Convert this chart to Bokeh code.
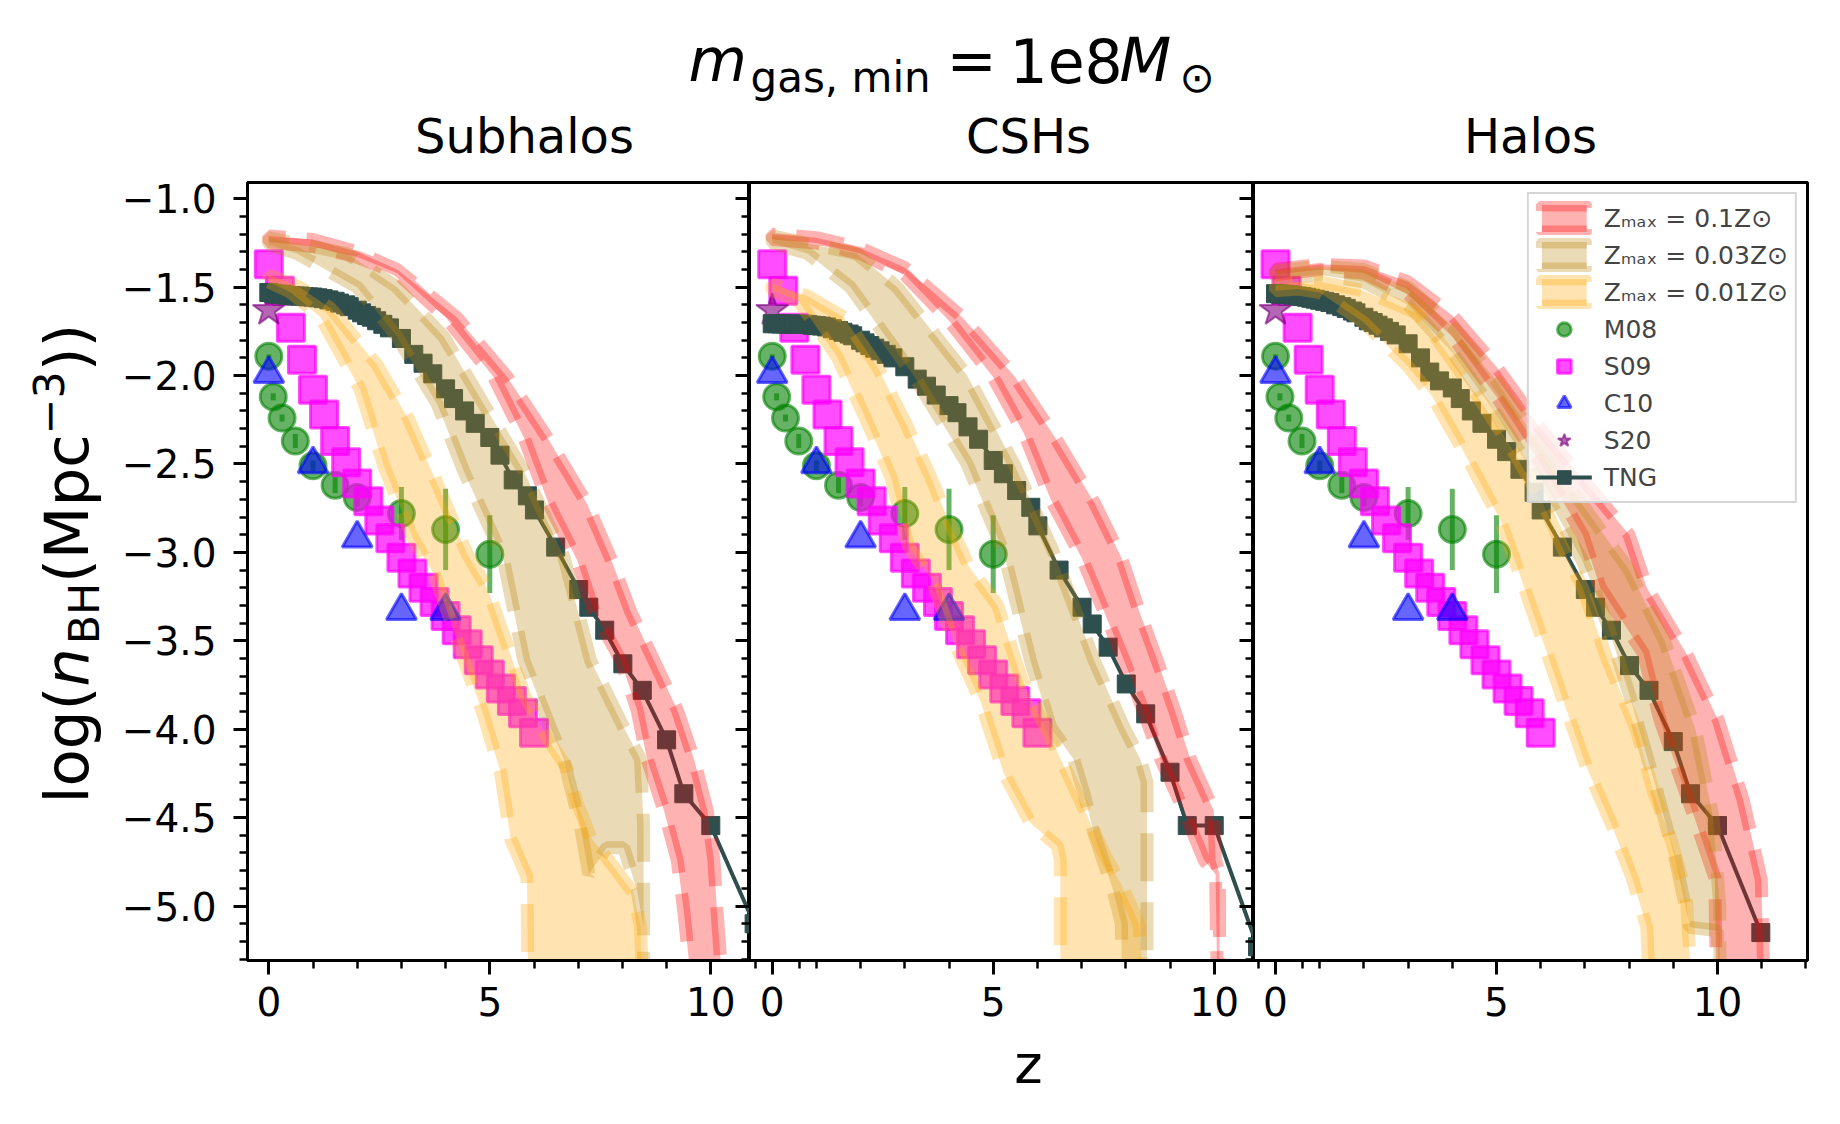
import math
from bokeh.plotting import figure
from bokeh.models import (Range1d, LinearAxis, SingleIntervalTicker, FixedTicker, Label, Legend,
                          LegendItem, CustomJSTickFormatter)
from bokeh.layouts import row, column
from bokeh.embed import file_html
from bokeh.resources import INLINE

FONT = "DejaVu Sans"

# ---------------------------------------------------------------- data
PANEL_TITLES = ["Subhalos", "CSHs", "Halos"]
LEGEND_LABELS = ["Z\u2098\u2090\u2093 = 0.1Z\u2299", "Z\u2098\u2090\u2093 = 0.03Z\u2299",
                 "Z\u2098\u2090\u2093 = 0.01Z\u2299", "M08", "S09", "C10", "S20", "TNG"]
X_MAJOR_TICKS = [0, 5, 10]
X_MINOR_TICKS = [1, 2, 3, 4, 6, 7, 8, 9, 11, 12]

TNG_Z = [0, 0.1, 0.2, 0.3, 0.4, 0.5, 0.6, 0.7, 0.8, 0.9,
         1.0, 1.11, 1.23, 1.36, 1.5, 1.6, 1.74, 1.82, 2.0, 2.1,
         2.21, 2.32, 2.44, 2.58, 2.73, 3.0, 3.28, 3.49, 3.71, 4.0,
         4.18, 4.43, 4.67, 5.0, 5.23, 5.53, 5.85, 6.01, 6.49, 7.01,
         7.24, 7.6, 8.01, 8.45, 9.0, 9.39, 10.0, 10.98]
TNG_SUB = [-1.53, -1.535, -1.54, -1.54, -1.545, -1.547, -1.55, -1.55, -1.553, -1.555,
           -1.556, -1.56, -1.565, -1.572, -1.58, -1.59, -1.60, -1.61, -1.63, -1.645,
           -1.66, -1.67, -1.69, -1.71, -1.73, -1.79, -1.88, -1.93, -1.99, -2.075,
           -2.13, -2.20, -2.27, -2.35, -2.45, -2.59, -2.68, -2.76, -2.97, -3.21,
           -3.31, -3.44, -3.63, -3.78, -4.06, -4.365, -4.545, -5.10]
TNG_CSH = [-1.707, -1.707, -1.708, -1.708, -1.709, -1.709, -1.71, -1.71, -1.71, -1.715,
           -1.717, -1.72, -1.725, -1.735, -1.745, -1.755, -1.765, -1.775, -1.80, -1.815,
           -1.83, -1.845, -1.86, -1.88, -1.90, -1.95, -2.02, -2.06, -2.11, -2.17,
           -2.21, -2.29, -2.36, -2.48, -2.555, -2.65, -2.745, -2.85, -3.10, -3.31,
           -3.405, -3.536, -3.744, -3.913, -4.243, -4.545, -4.545, -5.23]
TNG_HALO = [-1.537, -1.538, -1.54, -1.542, -1.545, -1.55, -1.553, -1.557, -1.563, -1.568,
            -1.574, -1.58, -1.587, -1.60, -1.61, -1.62, -1.635, -1.645, -1.67, -1.69,
            -1.70, -1.715, -1.73, -1.75, -1.77, -1.82, -1.90, -1.98, -2.03, -2.07,
            -2.13, -2.20, -2.27, -2.36, -2.43, -2.53, -2.66, -2.76, -2.97, -3.21,
            -3.31, -3.44, -3.64, -3.78, -4.07, -4.365, -4.545, -5.15]

M08_Z = [0, 0.1, 0.3, 0.6, 1.0, 1.5, 2.0, 3.0, 4.0, 5.0]
M08_Y = [-1.89, -2.12, -2.24, -2.37, -2.51, -2.62, -2.69, -2.78, -2.87, -3.01]
M08_ERR = [0.01, 0.02, 0.02, 0.04, 0.03, 0.045, 0.05, 0.15, 0.23, 0.22]

S09_Z = [0, 0.25, 0.5, 0.75, 1.0, 1.25, 1.5, 1.75, 2.0, 2.25, 2.5, 2.75, 3.0,
         3.25, 3.5, 3.75, 4.0, 4.25, 4.5, 4.75, 5.0, 5.25, 5.5, 5.75, 6.0]
S09_Y = [-1.37, -1.52, -1.73, -1.91, -2.08, -2.22, -2.37, -2.49, -2.61, -2.71, -2.82, -2.92, -3.03,
         -3.12, -3.20, -3.28, -3.36, -3.44, -3.52, -3.61, -3.69, -3.77, -3.84, -3.91, -4.02]

C10_Z = [0, 1, 2, 3, 4]
C10_Y = [-1.99, -2.50, -2.92, -3.33, -3.33]

S20_Z = [0]
S20_Y = [-1.63]

# band edges: (z, log n) along the lower and the upper boundary
SUB_RED_LO = [(0, -1.245), (1, -1.27), (2, -1.33), (2.9, -1.42), (4.0, -1.67), (5.09, -2.01),
              (5.77, -2.35), (6.33, -2.725), (6.98, -3.046), (7.35, -3.33), (7.96, -3.61),
              (8.33, -3.89), (8.56, -4.17), (8.94, -4.46), (9.24, -4.74), (9.39, -5.03),
              (9.50, -5.30), (9.55, -5.6)]
SUB_RED_HI = [(0, -1.21), (1, -1.23), (2, -1.30), (2.9, -1.40), (4.25, -1.67), (5.4, -2.01),
              (6.3, -2.35), (7.2, -2.725), (7.73, -3.03), (8.18, -3.33), (8.71, -3.61),
              (9.24, -3.89), (9.62, -4.17), (9.92, -4.46), (10.07, -4.74), (10.14, -5.03),
              (10.22, -5.30), (10.25, -5.6)]
SUB_TAN_LO = [(0, -1.26), (0.64, -1.31), (2.0, -1.5), (2.9, -1.78), (3.81, -2.16), (4.41, -2.54),
              (5.3, -3.03), (5.77, -3.61), (6.37, -3.99), (6.67, -4.17), (7.05, -4.55),
              (7.24, -4.82), (7.65, -4.67), (8.03, -4.67), (8.33, -4.91), (8.48, -5.12), (8.5, -5.6)]
SUB_TAN_HI = [(0, -1.22), (1.77, -1.31), (2.9, -1.5), (3.96, -1.78), (4.86, -2.16), (5.77, -2.54),
              (6.67, -3.02), (7.28, -3.61), (8.03, -3.99), (8.41, -4.17), (8.48, -4.55), (8.48, -5.6)]
SUB_ORA_LO = [(0, -1.47), (0.5, -1.53), (1.17, -1.67), (2.07, -2.08), (2.60, -2.51), (3.24, -2.91),
              (3.77, -3.14), (4.41, -3.61), (4.83, -3.90), (5.24, -4.24), (5.47, -4.62),
              (5.84, -4.835), (5.87, -5.6)]
SUB_ORA_HI = [(0, -1.43), (0.7, -1.50), (1.40, -1.62), (2.45, -1.94), (3.17, -2.25), (3.81, -2.61),
              (4.49, -3.01), (4.94, -3.20), (5.39, -3.52), (5.77, -3.80), (6.30, -4.05),
              (6.75, -4.22), (6.98, -4.42), (7.28, -4.61), (7.81, -4.78), (8.26, -4.93),
              (8.41, -5.12), (8.48, -5.6)]

CSH_RED_LO = [(0, -1.23), (1, -1.25), (2, -1.31), (3, -1.43), (4, -1.69), (5, -2.01), (5.7, -2.33),
              (6.3, -2.7), (7.0, -3.03), (7.5, -3.33), (7.96, -3.61), (8.4, -3.9), (8.79, -4.17),
              (9.31, -4.46), (9.77, -4.74), (10.03, -4.82), (10.08, -5.6)]
CSH_RED_HI = [(0, -1.20), (1, -1.22), (2, -1.28), (3, -1.39), (4.3, -1.67), (5.5, -2.01), (6.4, -2.35),
              (7.3, -2.725), (7.9, -3.03), (8.3, -3.33), (8.71, -3.61), (9.1, -3.89), (9.46, -4.17),
              (9.99, -4.46), (10.03, -4.74), (10.12, -4.82), (10.12, -5.6)]
CSH_TAN_LO = [(0, -1.25), (0.8, -1.31), (1.77, -1.5), (3.2, -2.0), (4.41, -2.5), (5.24, -3.0),
              (5.84, -3.61), (6.30, -3.99), (6.82, -4.17), (7.05, -4.36), (7.28, -4.59),
              (7.7, -4.9), (7.9, -5.1), (7.92, -5.6)]
CSH_TAN_HI = [(0, -1.21), (1.9, -1.31), (2.83, -1.5), (4.41, -2.0), (5.47, -2.5), (6.37, -3.0),
              (7.28, -3.61), (7.96, -3.99), (8.33, -4.17), (8.48, -4.3), (8.48, -5.6)]
CSH_ORA_LO = [(0, -1.52), (0.6, -1.58), (1.47, -1.895), (2.07, -2.22), (2.68, -2.57), (3.09, -2.97),
              (3.6, -3.15), (4.1, -3.5), (4.71, -3.84), (5.24, -4.25), (5.84, -4.53), (6.45, -4.66),
              (6.52, -4.74), (6.52, -5.6)]
CSH_ORA_HI = [(0, -1.48), (0.8, -1.55), (1.62, -1.67), (2.38, -1.95), (3.02, -2.27), (3.58, -2.57),
              (3.92, -2.78), (4.45, -3.08), (5.1, -3.3), (5.65, -3.72), (6.4, -4.1), (7.0, -4.42),
              (7.5, -4.7), (7.9, -4.88), (8.3, -5.1), (8.45, -5.6)]

HALO_RED_LO = [(0, -1.43), (1, -1.40), (2, -1.42), (3, -1.54), (4, -1.78), (5, -2.12), (6, -2.5),
               (6.95, -2.9), (7.35, -3.2), (8.32, -3.57), (8.7, -3.95), (9.45, -4.48),
               (9.94, -4.84), (9.98, -5.6)]
HALO_RED_HI = [(0, -1.40), (1, -1.37), (2, -1.38), (3, -1.47), (4, -1.66), (5, -1.95), (6, -2.3),
               (7, -2.6), (8.0, -2.9), (8.4, -3.2), (9.29, -3.57), (10.02, -3.95), (10.58, -4.40),
               (10.99, -4.85), (11.07, -5.6)]
HALO_TAN_LO = [(0, -1.45), (1, -1.43), (2, -1.47), (3, -1.6), (4, -1.87), (5, -2.22), (6, -2.62),
               (6.95, -3.05), (7.5, -3.4), (8.0, -3.8), (8.64, -4.36), (9.05, -4.74), (9.37, -5.12),
               (10.0, -5.14), (10.02, -5.6)]
HALO_TAN_HI = [(0, -1.41), (1, -1.38), (2, -1.40), (3, -1.50), (4, -1.72), (5, -2.03), (6, -2.4),
               (7, -2.75), (8.0, -3.1), (8.8, -3.5), (9.5, -4.0), (9.9, -4.5), (10.05, -5.0),
               (10.06, -5.6)]
HALO_ORA_LO = [(0, -1.52), (0.5, -1.51), (1, -1.53), (2, -1.7), (3, -1.95), (3.55, -2.12),
               (4.28, -2.44), (5.09, -2.82), (5.49, -3.10), (6.06, -3.51), (6.54, -3.86),
               (7.03, -4.21), (7.59, -4.53), (8.08, -4.85), (8.40, -5.12), (8.48, -5.6)]
HALO_ORA_HI = [(0, -1.49), (0.5, -1.47), (1, -1.47), (2, -1.52), (3.23, -1.65), (3.96, -1.90),
               (4.69, -2.16), (5.41, -2.44), (6.06, -2.725), (6.54, -3.0), (6.95, -3.2),
               (7.51, -3.61), (8.16, -4.0), (8.56, -4.36), (8.97, -4.64), (9.29, -4.93), (9.45, -5.6)]

PANELS = [
    dict(tng=TNG_SUB, bands=[(SUB_RED_LO, SUB_RED_HI), (SUB_TAN_LO, SUB_TAN_HI), (SUB_ORA_LO, SUB_ORA_HI)]),
    dict(tng=TNG_CSH, bands=[(CSH_RED_LO, CSH_RED_HI), (CSH_TAN_LO, CSH_TAN_HI), (CSH_ORA_LO, CSH_ORA_HI)]),
    dict(tng=TNG_HALO, bands=[(HALO_RED_LO, HALO_RED_HI), (HALO_TAN_LO, HALO_TAN_HI), (HALO_ORA_LO, HALO_ORA_HI)]),
]

# ---------------------------------------------------------------- style / layout
BAND_COLORS = ["#ff0000", "#b8860b", "#ffa500"]
TNG_COLOR = "#2f4f4f"
FRAME_H = 778
FRAME_W = [502, 504, 554]
X_PX_PER_UNIT = 44.2
X_START = [-0.482, -0.514, -0.498]
Y_RANGE = (-5.308, -0.908)
LEFT_W = 118           # text strip holding the y label
BORDER_L = [129, 0, 0]
BORDER_R = [0, 0, 20]
BORDER_T = 10
BORDER_B = 72
TOP_H = 172
BOT_H = 90
TICK_FS = "39px"
TOTAL_W = LEFT_W + BORDER_L[0] + sum(FRAME_W) + BORDER_R[2]
BASE_SHIFT = 0.42      # Label baseline correction (fraction of font size)
FRAME_LEFT = [LEFT_W + BORDER_L[0] + sum(FRAME_W[:k]) for k in range(3)]

y_fmt = CustomJSTickFormatter(code='return (tick < 0 ? "\\u2212" : "") + Math.abs(tick).toFixed(1);')
x_fmt = CustomJSTickFormatter(code='return Math.round(tick).toString();')
blank_fmt = CustomJSTickFormatter(code="return '';")


def text_fig(w, h, top=0, bottom=0):
    t = figure(frame_width=w, frame_height=h, x_range=Range1d(0, w), y_range=Range1d(0, h),
               output_backend="svg", toolbar_location=None, min_border_left=0, min_border_right=0,
               min_border_top=top, min_border_bottom=bottom,
               x_axis_location=None, y_axis_location=None)
    t.outline_line_color = None
    t.grid.visible = False
    t.background_fill_color = "white"
    t.border_fill_color = "white"
    return t


def put(t, x, y, text, size, style="normal", align="left", angle=0.0):
    # (x, y): wanted baseline point; shift compensates the label's baseline placement
    dx = -math.sin(angle) * BASE_SHIFT * size
    dy = math.cos(angle) * BASE_SHIFT * size
    t.add_layout(Label(x=x + dx, y=y + dy, text=text, text_font=FONT, text_font_size=f"{size:.1f}px",
                       text_font_style=style, text_align=align, text_baseline="alphabetic",
                       text_color="black", angle=angle))


def style_axis(ax):
    ax.axis_line_width = 3
    ax.axis_line_color = "black"
    ax.major_tick_line_width = 3
    ax.minor_tick_line_width = 2.5
    ax.major_tick_out = 14
    ax.major_tick_in = 0
    ax.minor_tick_out = 8
    ax.minor_tick_in = 0
    ax.major_label_text_font = FONT
    ax.major_label_text_font_size = TICK_FS
    ax.major_label_text_color = "black"


def x_ticker(i):
    minor = [t for t in X_MINOR_TICKS]
    if i > 0:
        # minor ticks of the previous panel's x axis that stick out below this panel
        for t in X_MINOR_TICKS:
            if t > 10:
                page = FRAME_LEFT[i - 1] + (t - X_START[i - 1]) * X_PX_PER_UNIT
                minor.append((page - FRAME_LEFT[i]) / X_PX_PER_UNIT + X_START[i])
    return FixedTicker(ticks=X_MAJOR_TICKS, minor_ticks=minor)


figs = []
renderers = {}
for i, panel in enumerate(PANELS):
    x0 = X_START[i]
    x1 = x0 + FRAME_W[i] / X_PX_PER_UNIT
    p = figure(frame_width=FRAME_W[i], frame_height=FRAME_H,
               x_range=Range1d(x0, x1), y_range=Range1d(*Y_RANGE),
               output_backend="svg", toolbar_location=None,
               min_border_left=BORDER_L[i], min_border_right=BORDER_R[i],
               min_border_top=BORDER_T, min_border_bottom=BORDER_B,
               y_axis_location="left" if i == 0 else None)
    p.background_fill_color = "white"
    p.border_fill_color = "white"
    p.outline_line_color = "black"
    p.outline_line_width = 3
    p.grid.visible = False

    p.xaxis.ticker = x_ticker(i)
    p.xaxis.formatter = x_fmt
    p.xaxis.major_label_standoff = 12
    style_axis(p.xaxis[0])
    if i == 0:
        p.yaxis.ticker = SingleIntervalTicker(interval=0.5, num_minor_ticks=5)
        p.yaxis.formatter = y_fmt
        p.yaxis.major_label_standoff = 17
        style_axis(p.yaxis[0])
    if i < 2:
        # the next panel's outward left ticks, drawn on this panel's right edge
        rax = LinearAxis(ticker=SingleIntervalTicker(interval=0.5, num_minor_ticks=5),
                         formatter=blank_fmt, major_label_standoff=0)
        style_axis(rax)
        rax.major_tick_out = 0
        rax.major_tick_in = 14
        rax.minor_tick_out = 0
        rax.minor_tick_in = 8
        rax.axis_line_color = None
        rax.major_label_text_font_size = "1px"
        p.add_layout(rax, "right")

    # observations
    p.segment(x0=M08_Z, y0=[y - e for y, e in zip(M08_Y, M08_ERR)],
              x1=M08_Z, y1=[y + e for y, e in zip(M08_Y, M08_ERR)],
              line_color="green", line_alpha=0.6, line_width=5)
    r_m08 = p.scatter(M08_Z, M08_Y, marker="circle", size=26, fill_color="green", fill_alpha=0.6,
                      line_color="green", line_alpha=0.6, line_width=3)
    r_s09 = p.scatter(S09_Z, S09_Y, marker="square", size=27, fill_color="magenta", fill_alpha=0.7,
                      line_color="magenta", line_alpha=0.7, line_width=3)
    r_c10 = p.scatter(C10_Z, C10_Y, marker="triangle", size=30, fill_color="blue", fill_alpha=0.6,
                      line_color="blue", line_alpha=0.6, line_width=3)
    r_s20 = p.scatter(S20_Z, S20_Y, marker="star", size=34, fill_color="purple", fill_alpha=0.6,
                      line_color="purple", line_alpha=0.6, line_width=2)
    # TNG
    r_tng_l = p.line(TNG_Z, panel["tng"], line_color=TNG_COLOR, line_width=4)
    r_tng_s = p.scatter(TNG_Z, panel["tng"], marker="square", size=18, fill_color=TNG_COLOR,
                        line_color=TNG_COLOR)
    # model bands
    band_rs = []
    for (lo, hi), col in zip(panel["bands"], BAND_COLORS):
        xs = [z for z, _ in lo] + [z for z, _ in reversed(hi)]
        ys = [v for _, v in lo] + [v for _, v in reversed(hi)]
        band_rs.append(p.patch(xs, ys, fill_color=col, fill_alpha=0.3, line_color=col,
                               line_alpha=0.3, line_width=13, line_dash="48 21"))
    figs.append(p)
    renderers[i] = dict(m08=r_m08, s09=r_s09, c10=r_c10, s20=r_s20, tng=(r_tng_l, r_tng_s), bands=band_rs)

# ---------------------------------------------------------------- legend (Halos panel)
p3 = figs[2]
r3 = renderers[2]
leg_m08 = p3.line([], [], line_color="green", line_alpha=0.6, line_width=4)
leg_s09 = p3.line([], [], line_color="magenta", line_alpha=0.6, line_width=4)
leg_c10 = p3.line([], [], line_color="blue", line_alpha=0.6, line_width=4)
leg_s20 = p3.line([], [], line_color="purple", line_alpha=0.6, line_width=4)
items = [
    LegendItem(label=LEGEND_LABELS[0], renderers=[r3["bands"][0]]),
    LegendItem(label=LEGEND_LABELS[1], renderers=[r3["bands"][1]]),
    LegendItem(label=LEGEND_LABELS[2], renderers=[r3["bands"][2]]),
    LegendItem(label=LEGEND_LABELS[3], renderers=[leg_m08, r3["m08"]]),
    LegendItem(label=LEGEND_LABELS[4], renderers=[leg_s09, r3["s09"]]),
    LegendItem(label=LEGEND_LABELS[5], renderers=[leg_c10, r3["c10"]]),
    LegendItem(label=LEGEND_LABELS[6], renderers=[leg_s20, r3["s20"]]),
    LegendItem(label=LEGEND_LABELS[7], renderers=[r3["tng"][0], r3["tng"][1]]),
]
legend = Legend(items=items, location="top_right", margin=10, padding=7, spacing=3,
                glyph_width=56, glyph_height=34, label_standoff=12,
                label_text_font=FONT, label_text_font_size="25px",
                border_line_color="#cccccc", border_line_width=2, border_line_alpha=0.8,
                background_fill_color="white", background_fill_alpha=0.8)
p3.add_layout(legend)

# ---------------------------------------------------------------- text strips
# top strip: super title and panel titles (x = page px, y = TOP_H - page y)
top = text_fig(TOTAL_W, TOP_H)
TF = 60
MAIN_Y = TOP_H - 85
SUB_Y = TOP_H - 95
put(top, 688, MAIN_Y, "m", TF, "italic")
put(top, 750, SUB_Y, "gas, min", 0.7 * TF)
put(top, 946, MAIN_Y, "=", TF)
put(top, 1009, MAIN_Y, "1e8", TF)
put(top, 1119, MAIN_Y, "M", TF, "italic")
put(top, 1179, SUB_Y, "\u2299", 0.7 * TF)
for cx, t in zip([524, 1028, 1530], PANEL_TITLES):
    put(top, cx, TOP_H - 156, t, 48, align="center")

# left strip: y axis label, composed piece by piece, rotated (x = page x, y = 960 - page y)
left = text_fig(LEFT_W, FRAME_H, top=BORDER_T, bottom=BORDER_B)
EM = {'l': 0.278, 'o': 0.612, 'g': 0.635, '(': 0.390, ')': 0.390, 'n': 0.634, 'B': 0.686,
      'H': 0.752, 'M': 0.863, 'p': 0.635, 'c': 0.550, '\u2212': 0.838, '3': 0.636}
F = 61
pieces = [("log(", F, "normal", 0, 0), ("n", F, "italic", 0, 0.06 * F),
          ("BH", 0.7 * F, "normal", 0.15 * F, 0), ("(Mpc", F, "normal", 0, 0),
          ("\u22123", 0.7 * F, "normal", -0.42 * F, 0), ("))", F, "normal", 0, 0)]
ypos = 157
for text, size, style, shift, extra in pieces:
    put(left, 92 + shift, ypos, text, size, style, angle=math.pi / 2)
    ypos += sum(EM[c] for c in text) * size + extra

# bottom strip: x axis label (y = strip bottom page y - page y)
bottom = text_fig(TOTAL_W, BOT_H)
BOT_TOP = TOP_H + BORDER_T + FRAME_H + BORDER_B
put(bottom, 1028, BOT_H - (1087 - BOT_TOP), "z", 54, align="center")

layout = column(top, row(left, *figs, spacing=0), bottom, spacing=0)
open("out.html", "w").write(file_html(layout, INLINE))
